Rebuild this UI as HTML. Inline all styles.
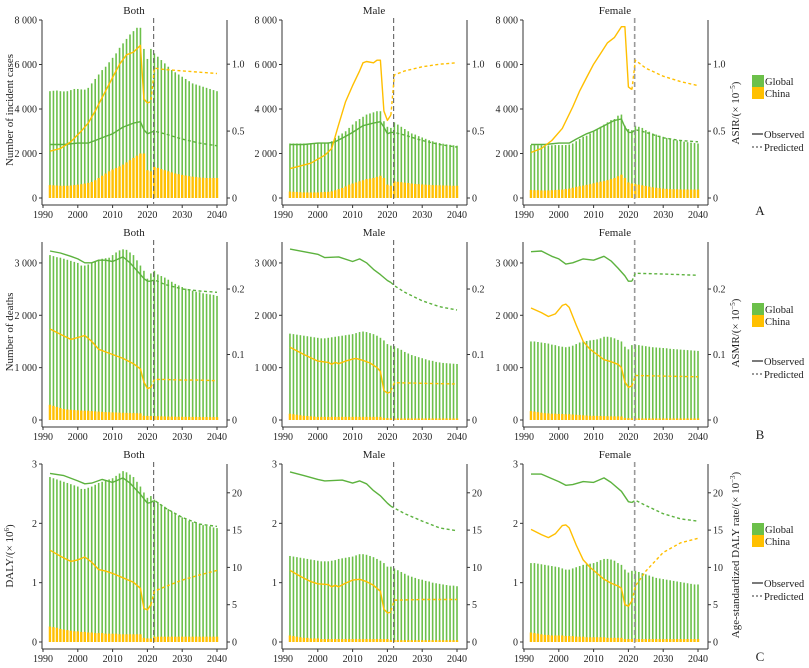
<!DOCTYPE html>
<html><head><meta charset="utf-8"><title>Incidence, deaths and DALY trends: Global vs China</title>
<style>
html,body{margin:0;padding:0;background:#fff;}
svg{display:block;font-family:"Liberation Serif",serif;}
</style></head>
<body>
<svg id="chart" width="809" height="668" viewBox="0 0 809 668" xmlns="http://www.w3.org/2000/svg"></svg>
<script>
// ---------- data ----------
const barYears = [];
for (let y = 1992; y <= 2040; y++) barYears.push(y);
const xTicks = [1990, 2000, 2010, 2020, 2030, 2040];
const sexTitles = ["Both", "Male", "Female"];

// Row A: incident cases (bars, left axis) and ASIR (lines, right axis)
const aBothGlobalBars = [4800,4820,4830,4800,4790,4800,4850,4900,4900, 4880,4870,4950,5150,5350,5550,5750,5900,6100,6300, 6500,6750,6950,7150,7350,7500,7650,7650,6700,6250, 6700,6500,6350,6200,6050,5900,5750,5650,5550,5450, 5350,5250,5150,5100,5050,5000,4950,4900,4850,4800];
const aBothChinaBars = [580,570,560,550,550,550,560,580,600, 620,650,680,720,800,900,1000,1100,1200,1280, 1350,1420,1500,1600,1700,1800,1900,2000,2000,1250, 1200,1400,1350,1300,1250,1200,1150,1100,1070,1040, 1010,980,960,940,920,910,900,900,900,900];
const aMaleGlobalBars = [2450,2450,2450,2450,2450,2450,2460,2470,2480, 2480,2490,2500,2550,2700,2800,2900,3000,3150,3300, 3450,3550,3650,3750,3800,3850,3900,3900,3450,3200, 3150,3400,3300,3200,3100,3000,2900,2850,2780,2720, 2660,2600,2550,2500,2470,2440,2410,2390,2370,2350];
const aMaleChinaBars = [290,280,270,260,250,250,250,250,250, 260,270,280,300,350,400,450,520,600,650, 700,750,800,850,870,900,950,1000,900,600, 550,750,730,710,690,670,650,630,620,610, 600,590,580,575,570,565,560,555,550,550];
const aFemaleGlobalBars = [2380,2380,2370,2370,2360,2360,2370,2380,2380, 2380,2380,2400,2450,2550,2650,2750,2800,2900,3000, 3100,3200,3300,3400,3500,3550,3700,3750,3250,3100, 3050,3250,3200,3150,3050,2980,2900,2850,2800,2750, 2700,2660,2620,2590,2560,2530,2510,2490,2470,2450];
const aFemaleChinaBars = [360,350,350,340,340,340,350,360,370, 380,400,420,460,500,530,560,590,620,660, 700,730,760,800,850,900,980,1050,900,700, 650,620,600,570,540,510,480,460,440,420, 410,400,395,390,385,385,380,380,380,380];

const aBothGlobalObs = [[1992,0.40],[1996,0.40],[2000,0.41],[2003,0.41],[2005,0.43],[2008,0.46],[2010,0.48],[2013,0.53],[2016,0.56],[2018,0.57],[2019,0.51],[2020,0.48],[2021,0.49]];
const aBothGlobalPred = [[2021,0.49],[2022,0.50],[2025,0.48],[2030,0.44],[2035,0.41],[2040,0.39]];
const aBothChinaObs = [[1992,0.35],[1995,0.37],[1998,0.42],[2001,0.50],[2003,0.56],[2005,0.65],[2008,0.80],[2010,0.90],[2012,1.00],[2014,1.07],[2016,1.09],[2018,1.14],[2019,0.74],[2020,0.71]];
const aBothChinaPred = [[2020,0.71],[2021,0.72],[2022,0.97],[2025,0.96],[2030,0.95],[2035,0.94],[2040,0.93]];
const aMaleGlobalObs = [[1992,0.40],[1996,0.40],[2000,0.41],[2003,0.41],[2005,0.42],[2008,0.46],[2010,0.49],[2013,0.54],[2016,0.56],[2018,0.57],[2019,0.53],[2020,0.48],[2021,0.49]];
const aMaleGlobalPred = [[2021,0.49],[2022,0.49],[2025,0.47],[2030,0.43],[2035,0.40],[2040,0.38]];
const aMaleChinaObs = [[1992,0.22],[1995,0.24],[1998,0.26],[2000,0.29],[2002,0.32],[2004,0.37],[2006,0.55],[2008,0.72],[2010,0.84],[2012,0.95],[2013,1.01],[2014,1.02],[2016,1.01],[2017,1.03],[2018,1.03],[2019,0.65],[2020,0.58],[2021,0.62]];
const aMaleChinaPred = [[2021,0.62],[2022,0.92],[2025,0.95],[2030,0.98],[2035,1.00],[2040,1.01]];
const aFemaleGlobalObs = [[1992,0.40],[1996,0.40],[2000,0.41],[2003,0.41],[2005,0.44],[2008,0.48],[2010,0.50],[2013,0.54],[2016,0.58],[2018,0.59],[2019,0.53],[2020,0.49],[2021,0.49]];
const aFemaleGlobalPred = [[2021,0.49],[2022,0.51],[2025,0.49],[2030,0.45],[2035,0.43],[2040,0.42]];
const aFemaleChinaObs = [[1992,0.34],[1995,0.37],[1998,0.43],[2001,0.52],[2004,0.68],[2006,0.80],[2008,0.90],[2010,1.00],[2012,1.08],[2014,1.16],[2016,1.20],[2018,1.28],[2019,1.28],[2020,0.83],[2021,0.81]];
const aFemaleChinaPred = [[2021,0.81],[2022,1.03],[2025,0.97],[2030,0.91],[2035,0.87],[2040,0.84]];

// Row B: deaths and ASMR
const bBothGlobalBars = [3150,3130,3110,3100,3080,3060,3040,3020,3000, 2950,2950,2970,3000,3030,3060,3080,3090,3100,3150, 3200,3240,3260,3250,3200,3150,3050,2950,2850,2700, 2800,2850,2780,2750,2720,2680,2640,2600,2570,2540, 2510,2490,2470,2450,2440,2420,2410,2400,2390,2370];
const bBothChinaBars = [290,270,250,230,210,200,195,190,185, 180,178,175,170,165,160,155,150,148,145, 143,140,138,136,134,132,130,128,80,78, 76,75,72,70,68,66,64,63,62,61, 60,60,59,58,58,57,57,56,56,55];
const bMaleGlobalBars = [1650,1640,1630,1620,1610,1600,1590,1580,1570, 1560,1560,1570,1580,1590,1600,1610,1620,1630,1640, 1660,1680,1690,1680,1660,1640,1610,1570,1520,1450, 1420,1410,1370,1340,1300,1270,1240,1220,1200,1180, 1160,1140,1130,1110,1100,1090,1085,1080,1075,1070];
const bMaleChinaBars = [120,110,100,90,80,75,70,65,60, 60,60,60,60,60,60,60,60,60,60, 60,60,60,60,60,60,60,60,40,35, 32,30,30,30,30,30,30,30,30,30, 30,30,30,30,30,30,30,30,30,30];
const bFemaleGlobalBars = [1500,1500,1490,1480,1470,1460,1440,1430,1410, 1400,1390,1400,1420,1450,1480,1500,1510,1520,1530, 1540,1560,1590,1590,1580,1560,1530,1500,1400,1350, 1430,1440,1430,1420,1410,1400,1390,1385,1380,1375, 1370,1360,1355,1350,1345,1340,1335,1330,1325,1320];
const bFemaleChinaBars = [170,160,150,140,130,125,120,120,115, 115,110,110,105,100,95,90,85,80,80, 78,76,74,72,70,70,70,68,40,35, 32,30,30,30,30,30,30,30,30,30, 30,30,30,30,30,30,30,30,30,30];

const bBothGlobalObs = [[1992,0.258],[1995,0.255],[1998,0.250],[2000,0.246],[2002,0.240],[2004,0.240],[2006,0.244],[2008,0.244],[2010,0.242],[2013,0.249],[2015,0.240],[2017,0.228],[2019,0.216],[2020,0.212],[2021,0.212]];
const bBothGlobalPred = [[2021,0.212],[2022,0.214],[2025,0.207],[2030,0.200],[2035,0.197],[2040,0.195]];
const bBothChinaObs = [[1992,0.139],[1995,0.131],[1998,0.123],[2000,0.126],[2002,0.129],[2004,0.120],[2006,0.108],[2008,0.104],[2010,0.100],[2013,0.094],[2016,0.086],[2018,0.078],[2019,0.058],[2020,0.048],[2021,0.050]];
const bBothChinaPred = [[2021,0.050],[2022,0.062],[2025,0.062],[2030,0.061],[2035,0.061],[2040,0.060]];
const bMaleGlobalObs = [[1992,0.261],[1996,0.257],[2000,0.253],[2002,0.248],[2006,0.249],[2010,0.242],[2012,0.246],[2014,0.240],[2016,0.230],[2018,0.222],[2020,0.213],[2021,0.210]];
const bMaleGlobalPred = [[2021,0.210],[2022,0.205],[2025,0.195],[2030,0.182],[2035,0.173],[2040,0.168]];
const bMaleChinaObs = [[1992,0.111],[1996,0.100],[2000,0.090],[2003,0.088],[2004,0.085],[2005,0.088],[2006,0.086],[2008,0.090],[2010,0.093],[2011,0.094],[2013,0.091],[2015,0.087],[2017,0.080],[2018,0.074],[2019,0.045],[2020,0.041],[2021,0.043]];
const bMaleChinaPred = [[2021,0.045],[2022,0.057],[2030,0.056],[2040,0.055]];
const bFemaleGlobalObs = [[1992,0.257],[1995,0.258],[1998,0.250],[2000,0.246],[2002,0.238],[2004,0.240],[2007,0.246],[2010,0.244],[2013,0.250],[2015,0.243],[2017,0.232],[2019,0.220],[2020,0.212],[2021,0.212]];
const bFemaleGlobalPred = [[2021,0.212],[2022,0.224],[2030,0.223],[2040,0.221]];
const bFemaleChinaObs = [[1992,0.171],[1995,0.164],[1997,0.158],[1999,0.162],[2001,0.175],[2002,0.177],[2003,0.172],[2005,0.145],[2007,0.120],[2009,0.108],[2011,0.100],[2013,0.092],[2015,0.089],[2017,0.085],[2018,0.080],[2019,0.058],[2020,0.050],[2021,0.052]];
const bFemaleChinaPred = [[2021,0.052],[2022,0.068],[2030,0.067],[2040,0.066]];

// Row C: DALY and age-standardized DALY rate
const cBothGlobalBars = [2.78,2.76,2.74,2.72,2.70,2.68,2.66,2.64,2.62, 2.58,2.58,2.60,2.62,2.65,2.68,2.70,2.72,2.74,2.76, 2.80,2.84,2.88,2.86,2.82,2.78,2.70,2.62,2.52,2.43, 2.46,2.40,2.36,2.32,2.28,2.24,2.20,2.16,2.13,2.10, 2.07,2.04,2.02,2.00,1.99,1.97,1.96,1.95,1.93,1.92];
const cBothChinaBars = [0.26,0.25,0.24,0.22,0.21,0.20,0.19,0.18,0.18, 0.17,0.17,0.16,0.16,0.15,0.15,0.15,0.14,0.14,0.14, 0.14,0.13,0.13,0.13,0.13,0.13,0.13,0.13,0.07,0.06, 0.06,0.09,0.09,0.09,0.09,0.09,0.09,0.09,0.09,0.09, 0.09,0.09,0.09,0.09,0.09,0.09,0.09,0.09,0.09,0.09];
const cMaleGlobalBars = [1.45,1.44,1.43,1.42,1.41,1.40,1.39,1.38,1.37, 1.36,1.36,1.36,1.37,1.38,1.40,1.41,1.42,1.43,1.44, 1.46,1.48,1.48,1.47,1.45,1.43,1.40,1.37,1.33,1.27, 1.27,1.24,1.21,1.18,1.15,1.12,1.10,1.08,1.06,1.05, 1.03,1.02,1.00,0.99,0.98,0.97,0.96,0.95,0.95,0.94];
const cMaleChinaBars = [0.11,0.10,0.09,0.08,0.07,0.07,0.06,0.06,0.06, 0.05,0.05,0.05,0.05,0.05,0.05,0.05,0.05,0.05,0.05, 0.05,0.05,0.05,0.05,0.05,0.05,0.05,0.05,0.05,0.05, 0.03,0.03,0.03,0.03,0.03,0.03,0.03,0.03,0.03,0.03, 0.03,0.03,0.03,0.03,0.03,0.03,0.03,0.03,0.03,0.03];
const cFemaleGlobalBars = [1.33,1.33,1.32,1.31,1.30,1.29,1.28,1.27,1.26, 1.24,1.22,1.22,1.24,1.26,1.28,1.30,1.31,1.32,1.33, 1.35,1.38,1.40,1.40,1.39,1.37,1.33,1.30,1.22,1.17, 1.20,1.20,1.18,1.16,1.14,1.12,1.10,1.08,1.07,1.06, 1.05,1.04,1.03,1.02,1.01,1.00,0.99,0.98,0.97,0.97];
const cFemaleChinaBars = [0.16,0.15,0.14,0.13,0.12,0.12,0.11,0.11,0.11, 0.11,0.10,0.10,0.10,0.09,0.09,0.09,0.08,0.08,0.08, 0.08,0.08,0.08,0.07,0.07,0.07,0.07,0.07,0.05,0.05, 0.05,0.05,0.05,0.05,0.05,0.05,0.05,0.05,0.05,0.05, 0.05,0.05,0.05,0.05,0.05,0.05,0.05,0.05,0.05,0.05];

const cBothGlobalObs = [[1992,22.6],[1996,22.3],[2000,21.6],[2002,21.2],[2004,21.3],[2007,21.8],[2010,21.4],[2013,22.0],[2015,21.3],[2018,19.8],[2020,18.6],[2021,18.7]];
const cBothGlobalPred = [[2021,18.7],[2022,19.0],[2025,18.0],[2030,16.7],[2035,15.8],[2040,15.5]];
const cBothChinaObs = [[1992,12.3],[1995,11.5],[1998,10.8],[2000,11.0],[2002,11.4],[2004,10.7],[2006,9.7],[2008,9.5],[2010,9.2],[2013,8.6],[2016,8.0],[2018,7.2],[2019,4.5],[2020,4.3],[2021,5.0]];
const cBothChinaPred = [[2021,5.0],[2022,6.8],[2025,7.4],[2030,8.3],[2035,9.0],[2040,9.6]];
const cMaleGlobalObs = [[1992,22.8],[1996,22.3],[2000,21.8],[2002,21.6],[2007,21.7],[2010,21.3],[2012,21.6],[2014,21.2],[2016,20.3],[2018,19.6],[2020,18.6],[2021,18.2]];
const cMaleGlobalPred = [[2021,18.2],[2025,17.2],[2030,16.2],[2035,15.3],[2040,14.9]];
const cMaleChinaObs = [[1992,9.6],[1995,8.8],[1998,8.1],[2000,7.8],[2003,7.7],[2004,7.4],[2005,7.6],[2006,7.4],[2008,7.9],[2010,8.3],[2012,8.4],[2014,8.1],[2016,7.6],[2018,6.8],[2019,4.4],[2020,3.9],[2021,4.0]];
const cMaleChinaPred = [[2021,4.2],[2022,5.6],[2030,5.7],[2040,5.7]];
const cFemaleGlobalObs = [[1992,22.5],[1995,22.5],[1998,21.9],[2000,21.5],[2002,21.0],[2004,21.1],[2007,21.5],[2010,21.4],[2013,22.0],[2015,21.4],[2018,20.2],[2020,18.8],[2021,18.7]];
const cFemaleGlobalPred = [[2021,18.7],[2022,19.0],[2025,18.3],[2030,17.2],[2035,16.5],[2040,16.2]];
const cFemaleChinaObs = [[1992,15.1],[1995,14.4],[1997,14.0],[1999,14.5],[2001,15.6],[2002,15.7],[2003,15.3],[2005,13.0],[2007,11.0],[2009,10.0],[2011,9.2],[2013,8.4],[2015,7.9],[2017,7.5],[2018,7.2],[2019,5.0],[2020,4.8],[2021,5.5]];
const cFemaleChinaPred = [[2021,5.5],[2022,7.5],[2025,9.5],[2030,12.0],[2035,13.3],[2040,13.9]];

const aLeftTicks = [0,2000,4000,6000,8000];
const aLeftLabels = ["0","2 000","4 000","6 000","8 000"];
const aRightTicks = [0,0.5,1.0];
const aRightLabels = ["0","0.5","1.0"];
const bLeftTicks = [0,1000,2000,3000];
const bLeftLabels = ["0","1 000","2 000","3 000"];
const bRightTicks = [0,0.1,0.2];
const bRightLabels = ["0","0.1","0.2"];
const cLeftTicks = [0,1,2,3];
const cLeftLabels = ["0","1","2","3"];
const cRightTicks = [0,5,10,15,20];
const cRightLabels = ["0","5","10","15","20"];

// ---------- drawing ----------
const svg = document.getElementById('chart');
const NS = 'http://www.w3.org/2000/svg';
const GREEN = '#6cc04a', YELLOW = '#ffc000', GLINE = '#5cb23e', YLINE = '#ffbf00';
function mk(tag, attrs, parent) {
  const e = document.createElementNS(NS, tag);
  for (const k in attrs) e.setAttribute(k, attrs[k]);
  (parent || svg).appendChild(e);
  return e;
}
function txt(s, attrs, parent) { const e = mk('text', attrs, parent); e.textContent = s; return e; }

const panelLeft = [42, 282, 523];
const panelW = 185;
const rows = [
  {key:'a', top:20, zero:198, leftMax:8000, rightMax:1.33, lt:aLeftTicks, ll:aLeftLabels, rt:aRightTicks, rl:aRightLabels,
   bars:[[aBothGlobalBars,aBothChinaBars],[aMaleGlobalBars,aMaleChinaBars],[aFemaleGlobalBars,aFemaleChinaBars]],
   lines:[[aBothGlobalObs,aBothGlobalPred,aBothChinaObs,aBothChinaPred],[aMaleGlobalObs,aMaleGlobalPred,aMaleChinaObs,aMaleChinaPred],[aFemaleGlobalObs,aFemaleGlobalPred,aFemaleChinaObs,aFemaleChinaPred]]},
  {key:'b', top:242, zero:420, leftMax:3400, rightMax:0.2718, lt:bLeftTicks, ll:bLeftLabels, rt:bRightTicks, rl:bRightLabels,
   bars:[[bBothGlobalBars,bBothChinaBars],[bMaleGlobalBars,bMaleChinaBars],[bFemaleGlobalBars,bFemaleChinaBars]],
   lines:[[bBothGlobalObs,bBothGlobalPred,bBothChinaObs,bBothChinaPred],[bMaleGlobalObs,bMaleGlobalPred,bMaleChinaObs,bMaleChinaPred],[bFemaleGlobalObs,bFemaleGlobalPred,bFemaleChinaObs,bFemaleChinaPred]]},
  {key:'c', top:464, zero:642, leftMax:3.0, rightMax:23.86, lt:cLeftTicks, ll:cLeftLabels, rt:cRightTicks, rl:cRightLabels,
   bars:[[cBothGlobalBars,cBothChinaBars],[cMaleGlobalBars,cMaleChinaBars],[cFemaleGlobalBars,cFemaleChinaBars]],
   lines:[[cBothGlobalObs,cBothGlobalPred,cBothChinaObs,cBothChinaPred],[cMaleGlobalObs,cMaleGlobalPred,cMaleChinaObs,cMaleChinaPred],[cFemaleGlobalObs,cFemaleGlobalPred,cFemaleChinaObs,cFemaleChinaPred]]}
];

rows.forEach((row) => {
  panelLeft.forEach((L, pi) => {
    const g = mk('g', {});
    
    
    const R = L + panelW;
    const h = row.zero - row.top;
    const xS = yr => L + 1 + (yr - 1990) * 3.48;
    const yL = v => row.zero - v / row.leftMax * h;
    const yR = v => row.zero - v / row.rightMax * h;
    const axisB = row.zero + 7;

    // title
    const t = txt(sexTitles[pi], {x: L + 92, y: row.top - 6, 'font-size': 11, 'text-anchor': 'middle', fill: '#222'}, g);
    
    

    // bars
    const [gb, cb] = row.bars[pi];
    barYears.forEach((yr, i) => {
      const x = xS(yr);
      const b1 = mk('rect', {x: x - 0.8, y: yL(gb[i]), width: 1.6, height: row.zero - yL(gb[i]), fill: GREEN}, g);
      
      
    });
    barYears.forEach((yr, i) => {
      const x = xS(yr);
      const b2 = mk('rect', {x: x - 1.2, y: yL(cb[i]), width: 2.4, height: row.zero - yL(cb[i]), fill: YELLOW}, g);
      
      
    });

    // dashed vertical
    const vx = xS(2021.8);
    const vl = mk('line', {x1: vx, x2: vx, y1: row.top - 2, y2: row.zero + 6, stroke: pi === 2 ? '#999' : '#555', 'stroke-width': pi === 2 ? 1.6 : 1, 'stroke-dasharray': '5,3'}, g);
    
    

    // lines
    const [go, gp, co, cp] = row.lines[pi];
    const series = [[go, GLINE, null, 'global-observed-line'], [gp, GLINE, '3,2.5', 'global-predicted-line'], [co, YLINE, null, 'china-observed-line'], [cp, YLINE, '3,2.5', 'china-predicted-line']];
    series.forEach(([pts, col, dash, name]) => {
      const d = pts.map((p, i) => (i ? 'L' : 'M') + xS(p[0]).toFixed(1) + ' ' + yR(p[1]).toFixed(1)).join(' ');
      const attrs = {d: d, fill: 'none', stroke: col, 'stroke-width': 1.4, 'stroke-linejoin': 'round'};
      if (dash) attrs['stroke-dasharray'] = dash;
      const p = mk('path', attrs, g);
      
      
    });

    // axes
    const la = mk('line', {x1: L, x2: L, y1: row.top, y2: axisB, stroke: '#333', 'stroke-width': 1}, g);
    
    
    const ra = mk('line', {x1: R, x2: R, y1: row.top, y2: axisB, stroke: '#333', 'stroke-width': 1}, g);
    
    
    const ba = mk('line', {x1: L, x2: R, y1: axisB, y2: axisB, stroke: '#333', 'stroke-width': 1}, g);
    
    

    row.lt.forEach((v, i) => {
      mk('line', {x1: L - 3, x2: L, y1: yL(v), y2: yL(v), stroke: '#333'}, g);
      const tl = txt(row.ll[i], {x: L - 5, y: yL(v) + 3.5, 'font-size': 10, 'text-anchor': 'end', fill: '#222'}, g);
      
      
    });
    row.rt.forEach((v, i) => {
      mk('line', {x1: R, x2: R + 3, y1: yR(v), y2: yR(v), stroke: '#333'}, g);
      const tr = txt(row.rl[i], {x: R + 5, y: yR(v) + 3.5, 'font-size': 10, fill: '#222'}, g);
      
      
    });
    xTicks.forEach(yr => {
      mk('line', {x1: xS(yr), x2: xS(yr), y1: axisB, y2: axisB + 3, stroke: '#333'}, g);
      const tx = txt(String(yr), {x: xS(yr), y: axisB + 13, 'font-size': 10, 'text-anchor': 'middle', fill: '#222'}, g);
      
      
    });
  });
});

// axis titles
function vtitle(s, x, y, name) {
  const e = txt(s, {x: x, y: y, 'font-size': 11, 'text-anchor': 'middle', fill: '#222', transform: 'rotate(-90 ' + x + ' ' + y + ')'});
  
  
  return e;
}
vtitle('Number of incident cases', 13, 110, 'y-axis-title-cases');
vtitle('Number of deaths', 13, 332, 'y-axis-title-deaths');
const dt = vtitle('', 13, 556, 'y-axis-title-daly');
dt.innerHTML = 'DALY/(× 10<tspan baseline-shift="super" font-size="7">6</tspan>)';
const r1 = vtitle('', 739, 113, 'right-axis-title-asir');
r1.innerHTML = 'ASIR/(× 10<tspan baseline-shift="super" font-size="7">−5</tspan>)';
const r2 = vtitle('', 739, 333, 'right-axis-title-asmr');
r2.innerHTML = 'ASMR/(× 10<tspan baseline-shift="super" font-size="7">−5</tspan>)';
const r3 = vtitle('', 739, 555, 'right-axis-title-daly-rate');
r3.innerHTML = 'Age-standardized DALY rate/(× 10<tspan baseline-shift="super" font-size="7">−3</tspan>)';

// legends
const legendY = [[75, 134], [303, 361], [523, 583]];
const rowLetters = [['A', 215], ['B', 439], ['C', 661]];
legendY.forEach(([sy, ly], i) => {
  const g = mk('g', {});
  
  
  const s1 = mk('rect', {x: 752, y: sy, width: 12, height: 12, fill: GREEN}, g);
  
  
  const t1 = txt('Global', {x: 765, y: sy + 10, 'font-size': 10.5, fill: '#222'}, g);
  
  
  const s2 = mk('rect', {x: 752, y: sy + 12, width: 12, height: 12, fill: YELLOW}, g);
  
  
  const t2 = txt('China', {x: 765, y: sy + 22, 'font-size': 10.5, fill: '#222'}, g);
  
  
  const l1 = mk('line', {x1: 752, x2: 763, y1: ly, y2: ly, stroke: '#333', 'stroke-width': 1.3}, g);
  
  
  const t3 = txt('Observed', {x: 764, y: ly + 4, 'font-size': 10.5, fill: '#222'}, g);
  
  
  const l2 = mk('line', {x1: 752, x2: 763, y1: ly + 13, y2: ly + 13, stroke: '#333', 'stroke-width': 1.1, 'stroke-dasharray': '2,2'}, g);
  
  
  const t4 = txt('Predicted', {x: 764, y: ly + 17, 'font-size': 10.5, fill: '#222'}, g);
  
  
  const letter = txt(rowLetters[i][0], {x: 760, y: rowLetters[i][1], 'font-size': 13, 'text-anchor': 'middle', fill: '#222'});
  
  
});
</script>
</body></html>
